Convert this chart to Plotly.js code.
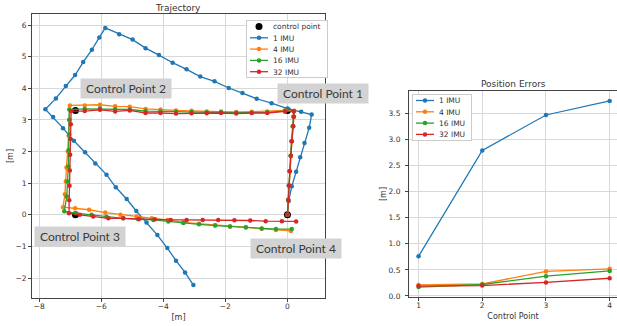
<!DOCTYPE html>
<html>
<head>
<meta charset="utf-8">
<script src="https://cdn.plot.ly/plotly-3.0.1.min.js"></script>
<style>
  html, body { margin: 0; padding: 0; background: #fff; }
  #chart { width: 617px; height: 326px; }
</style>
</head>
<body>
<div id="chart"></div>
<script>
// ---- Trajectory data (metres) ----
const controlX = [0, -6.83, -6.83, 0];
const controlY = [3.3, 3.3, 0, 0];

const imu1X = [0, 0.04, 0.14, 0.28, 0.41, 0.55, 0.70, 0.78, 0.44, 0.0, -0.51, -0.99, -1.45, -1.89, -2.35, -2.81, -3.25, -3.70, -4.14, -4.57, -4.99, -5.42, -5.87, -6.06, -6.30, -6.58, -6.84, -7.14, -7.46, -7.80, -7.55, -7.23, -6.88, -6.52, -6.19, -5.83, -5.53, -5.18, -4.87, -4.54, -4.19, -3.87, -3.59, -3.30, -3.03];
const imu1Y = [0, 0.44, 0.90, 1.36, 1.82, 2.27, 2.75, 3.17, 3.26, 3.36, 3.53, 3.67, 3.85, 4.01, 4.22, 4.37, 4.60, 4.81, 5.05, 5.27, 5.54, 5.71, 5.91, 5.61, 5.22, 4.83, 4.42, 4.07, 3.68, 3.34, 3.09, 2.74, 2.34, 1.98, 1.62, 1.27, 0.87, 0.50, 0.12, -0.24, -0.64, -1.05, -1.45, -1.82, -2.22];

const imu4X = [0, 0.02, 0.05, 0.08, 0.11, 0.14, 0.17, 0.20, 0.22, -0.08, -0.65, -1.15, -1.65, -2.14, -2.60, -3.09, -3.59, -4.09, -4.57, -5.08, -5.55, -6.04, -6.53, -7.01, -7.03, -7.05, -7.08, -7.12, -7.14, -7.17, -7.23, -6.84, -6.39, -5.87, -5.38, -4.86, -4.37, -3.86, -3.37, -2.85, -2.33, -1.85, -1.34, -0.83, -0.37, 0.11];
const imu4Y = [0, 0.47, 0.93, 1.38, 1.87, 2.33, 2.80, 3.10, 3.29, 3.30, 3.27, 3.26, 3.25, 3.27, 3.27, 3.29, 3.30, 3.33, 3.35, 3.42, 3.43, 3.48, 3.46, 3.46, 3.00, 2.50, 2.00, 1.50, 1.06, 0.65, 0.24, 0.21, 0.16, 0.07, 0.00, -0.05, -0.11, -0.16, -0.24, -0.28, -0.33, -0.37, -0.40, -0.44, -0.48, -0.51];

const imu16X = [0, 0.02, 0.04, 0.07, 0.10, 0.13, 0.17, 0.19, 0.21, -0.08, -0.65, -1.15, -1.65, -2.14, -2.60, -3.09, -3.59, -4.09, -4.57, -5.08, -5.55, -6.04, -6.53, -7.03, -7.03, -7.03, -7.05, -7.06, -7.09, -7.11, -7.19, -6.82, -6.31, -5.83, -5.29, -4.81, -4.32, -3.84, -3.35, -2.85, -2.33, -1.85, -1.34, -0.83, -0.37, 0.14];
const imu16Y = [0, 0.47, 0.93, 1.38, 1.87, 2.33, 2.80, 3.10, 3.28, 3.28, 3.24, 3.23, 3.23, 3.24, 3.24, 3.25, 3.26, 3.27, 3.28, 3.33, 3.34, 3.36, 3.35, 3.33, 3.01, 2.54, 2.04, 1.53, 1.05, 0.58, 0.11, 0.05, 0.00, -0.06, -0.11, -0.14, -0.16, -0.21, -0.26, -0.30, -0.34, -0.37, -0.39, -0.43, -0.45, -0.45];

const imu32X = [0, 0.03, 0.05, 0.07, 0.11, 0.14, 0.19, 0.21, 0.20, -0.08, -0.65, -1.15, -1.65, -2.14, -2.60, -3.09, -3.59, -4.09, -4.57, -5.08, -5.55, -6.04, -6.53, -6.97, -6.98, -6.99, -7.00, -7.01, -7.02, -7.03, -7.04, -6.69, -6.26, -5.77, -5.29, -4.78, -4.27, -3.76, -3.25, -2.73, -2.23, -1.71, -1.20, -0.70, -0.18, 0.28];
const imu32Y = [0, 0.47, 0.93, 1.38, 1.87, 2.33, 2.80, 3.10, 3.27, 3.27, 3.22, 3.22, 3.20, 3.22, 3.21, 3.21, 3.20, 3.22, 3.22, 3.30, 3.27, 3.32, 3.28, 3.28, 2.86, 2.40, 1.90, 1.40, 0.92, 0.46, 0.05, 0.00, -0.05, -0.11, -0.11, -0.13, -0.14, -0.16, -0.16, -0.16, -0.16, -0.17, -0.18, -0.20, -0.20, -0.21];

// ---- Position errors ----
const controlPoints = [1, 2, 3, 4];
const err1 = [0.76, 2.79, 3.47, 3.74];
const err4 = [0.21, 0.23, 0.47, 0.52];
const err16 = [0.17, 0.22, 0.38, 0.48];
const err32 = [0.19, 0.20, 0.26, 0.34];

const seriesNames = ['1 IMU', '4 IMU', '16 IMU', '32 IMU'];
const colors = ['#1f77b4', '#ff7f0e', '#2ca02c', '#d62728'];
const annotationTexts = ['Control Point 1', 'Control Point 2', 'Control Point 3', 'Control Point 4'];

const trajX = [imu1X, imu4X, imu16X, imu32X];
const trajY = [imu1Y, imu4Y, imu16Y, imu32Y];
const errs = [err1, err4, err16, err32];

const traces = [{
  x: controlX, y: controlY, mode: 'markers', name: 'control point',
  marker: { color: '#000', size: 7 }, xaxis: 'x', yaxis: 'y', legend: 'legend'
}];
for (let i = 0; i < 4; i++) {
  traces.push({
    x: trajX[i], y: trajY[i], mode: 'lines+markers', name: seriesNames[i],
    line: { color: colors[i], width: 1.3 }, marker: { color: colors[i], size: 4.5 },
    xaxis: 'x', yaxis: 'y', legend: 'legend'
  });
}
for (let i = 0; i < 4; i++) {
  traces.push({
    x: controlPoints, y: errs[i], mode: 'lines+markers', name: seriesNames[i],
    line: { color: colors[i], width: 1.3 }, marker: { color: colors[i], size: 4.5 },
    xaxis: 'x2', yaxis: 'y2', legend: 'legend2'
  });
}

const W = 617, H = 326;
const px = v => v / W;
const py = v => 1 - v / H;

const tickFont = { family: 'DejaVu Sans', size: 7.5, color: '#333' };
const axisCommon = {
  showgrid: true, gridcolor: '#d8d8d8', gridwidth: 1,
  showline: true, mirror: true, linecolor: '#444', linewidth: 1,
  ticks: 'outside', ticklen: 3, tickcolor: '#444',
  zeroline: false, tickfont: tickFont, automargin: false
};

const boxStyle = (text, cx, cy) => ({
  text: text, xref: 'paper', yref: 'paper', x: px(cx), y: py(cy),
  xanchor: 'center', yanchor: 'middle', showarrow: false,
  font: { family: 'Lato', size: 12, color: '#3a3a3a' },
  bgcolor: '#d3d3d3', borderpad: 2, width: 86, height: 15
});

const legendFont = { family: 'DejaVu Sans', size: 7.5, color: '#333' };

const layout = {
  width: W, height: H,
  margin: { l: 0, r: 0, t: 0, b: 0 },
  paper_bgcolor: '#fff', plot_bgcolor: '#fff',
  font: { family: 'DejaVu Sans', size: 8, color: '#333' },
  xaxis: Object.assign({}, axisCommon, {
    domain: [px(32), px(325)], range: [-8.23, 1.21], tickvals: [-8, -6, -4, -2, 0],
    anchor: 'y', ticklabelstandoff: -2, title: { text: '[m]', font: { size: 8 }, standoff: 4 }
  }),
  yaxis: Object.assign({}, axisCommon, {
    domain: [1 - 298 / H, 1 - 14 / H], range: [-2.63, 6.35], dtick: 1,
    anchor: 'x', title: { text: '[m]', font: { size: 8 }, standoff: 0 }
  }),
  xaxis2: Object.assign({}, axisCommon, {
    domain: [px(409), 1], range: [0.85, 4.115], tickvals: controlPoints,
    anchor: 'y2', ticklabelstandoff: -2, title: { text: 'Control Point', font: { size: 8 }, standoff: 4 }
  }),
  yaxis2: Object.assign({}, axisCommon, {
    domain: [1 - 297 / H, 1 - 91 / H], range: [-0.02, 3.93], dtick: 0.5, tickformat: '.1f',
    anchor: 'x2', ticklabelstandoff: 3, title: { text: '[m]', font: { size: 8 }, standoff: 0 }
  }),
  legend: {
    x: px(246), y: py(20), xanchor: 'left', yanchor: 'top',
    bgcolor: '#fff', bordercolor: '#ccc', borderwidth: 1,
    font: legendFont, itemwidth: 30
  },
  legend2: {
    x: px(412), y: py(94), xanchor: 'left', yanchor: 'top',
    bgcolor: '#fff', bordercolor: '#ccc', borderwidth: 1,
    font: legendFont, itemwidth: 30
  },
  annotations: [
    { text: 'Trajectory', xref: 'paper', yref: 'paper', x: px(178), y: py(8), xanchor: 'center', yanchor: 'middle', showarrow: false, font: { family: 'DejaVu Sans', size: 9, color: '#333' } },
    { text: 'Position Errors', xref: 'paper', yref: 'paper', x: px(513), y: py(84), xanchor: 'center', yanchor: 'middle', showarrow: false, font: { family: 'DejaVu Sans', size: 9, color: '#333' } },
    boxStyle(annotationTexts[0], 323, 93),
    boxStyle(annotationTexts[1], 125.5, 88),
    boxStyle(annotationTexts[2], 80, 236),
    boxStyle(annotationTexts[3], 296, 248)
  ]
};

// Compact the legend entries (matplotlib-like spacing) after Plotly lays them out.
const LEG_STEP = 11.3, LEG_PAD = 6.5, LEG_TEXT_X = 26;
function compactLegend(lg) {
  const items = lg.querySelectorAll('g.traces');
  if (!items.length) return;
  let maxW = 0;
  items.forEach((it, i) => {
    it.setAttribute('transform', 'translate(1,' + (LEG_PAD + i * LEG_STEP) + ')');
    it.querySelectorAll('path.js-line').forEach(p => p.setAttribute('d', 'M3,0h18'));
    it.querySelectorAll('path.scatterpts').forEach(p => p.setAttribute('transform', 'translate(12,0)'));
    it.querySelectorAll('text').forEach(tx => {
      tx.setAttribute('x', LEG_TEXT_X);
      tx.setAttribute('text-anchor', 'start');
      tx.querySelectorAll('tspan').forEach(ts => { if (ts.hasAttribute('x')) ts.setAttribute('x', LEG_TEXT_X); });
      try { maxW = Math.max(maxW, tx.getComputedTextLength()); } catch (e) {}
    });
  });
  const bg = lg.querySelector('rect.bg');
  if (bg) {
    if (maxW > 0) bg.setAttribute('width', LEG_TEXT_X + maxW + 7);
    bg.setAttribute('height', LEG_PAD + (items.length - 1) * LEG_STEP + LEG_PAD - 1);
  }
}
function compactAll() {
  document.querySelectorAll('#chart g.legend, #chart g.legend2').forEach(compactLegend);
}

Plotly.newPlot('chart', traces, layout, { displayModeBar: false, staticPlot: true }).then(() => {
  compactAll();
  requestAnimationFrame(compactAll);
  setTimeout(compactAll, 30);
});
</script>
</body>
</html>
